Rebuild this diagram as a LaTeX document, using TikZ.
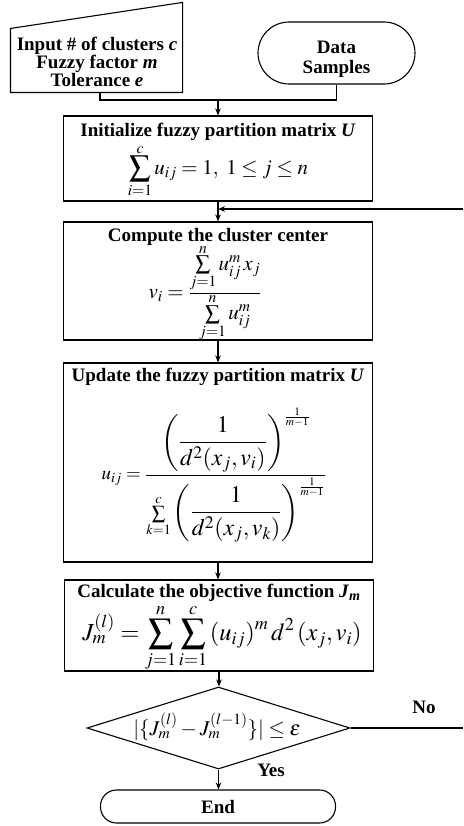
\documentclass[tikz,border=0pt]{standalone}
\usepackage{mathptmx}
\usepackage{graphicx}
\usepackage[no-math]{fontspec}
\setmainfont{Liberation Serif}
\usetikzlibrary{shapes.geometric,arrows.meta}
\newcommand{\bigpar}[1]{\scalebox{1.25}{$\displaystyle\left(\frac{1}{d^2(x_j,#1)}\right)$}}
\newcommand{\tightlimits}{\fontdimen9\textfont3=2.5pt \fontdimen10\textfont3=2.5pt \fontdimen11\textfont3=0pt \fontdimen12\textfont3=0pt \fontdimen13\textfont3=0pt }
\newcommand{\tinyexp}{{\scriptscriptstyle\frac{1}{m-1}}}
\begin{document}
\begin{tikzpicture}[x=1pt,y=-1pt,line width=1.1pt,
  box/.style={draw,rectangle,inner sep=0pt,minimum width=309pt},
  arr/.style={-{Stealth[length=7pt,width=5.5pt]}},
  ttl/.style={font=\fontsize{19}{22}\selectfont\bfseries,inner sep=0pt},
  fml/.style={font=\fontsize{18}{20}\selectfont,inner sep=0pt},
  lbl/.style={font=\fontsize{19}{22}\selectfont\bfseries,inner sep=0pt}]
\useasboundingbox (0,0) rectangle (463,826);
% input (manual input shape)
\node[inner sep=0pt,minimum width=171pt,minimum height=89pt] (inp) at (96.5,47.5) {};
\draw ([yshift=-26pt]inp.north west) -- (inp.north east) -- (inp.south east) -- (inp.south west) -- cycle;
\node[ttl,align=center,font=\fontsize{19}{17}\selectfont\bfseries] (inpT) at (97,62) {Input \# of clusters \textit{c}\\Fuzzy factor \textit{m}\\Tolerance \textit{e}};
% data samples
\node[draw,rounded corners=31pt,minimum width=157pt,minimum height=62pt,inner sep=0pt] (data) at (336.5,53) {};
\node[ttl,align=center,font=\fontsize{19}{20}\selectfont\bfseries] (dataT) at (336.5,59) {Data\\Samples};
% init
\node[box,minimum height=85pt] (init) at (218,158.5) {};
\node[ttl] (initT) at (218,132) {Initialize fuzzy partition matrix \textit{U}};
\node[fml,font=\fontsize{21}{24}\selectfont] (initF) at (218,171) {$\tightlimits\displaystyle\sum_{i=1}^{c} u_{ij} = 1,\ 1\le j\le n$};
% compute
\node[box,minimum height=118pt] (comp) at (218,281) {};
\node[ttl] (compT) at (218,237) {Compute the cluster center};
\node[fml,font=\fontsize{21}{24}\selectfont] (compF) at (205,293) {$\tightlimits v_i=\displaystyle\frac{\textstyle\sum\limits_{j=1}^{n} u_{ij}^{m}\, x_j}{\textstyle\sum\limits_{j=1}^{n} u_{ij}^{m}}$};
% update
\node[box,minimum height=199pt] (upd) at (218,462.5) {};
\node[ttl] (updT) at (218,377) {Update the fuzzy partition matrix \textit{U}};
\node[fml,font=\fontsize{19}{22}\selectfont] (updF) at (214,475) {$\tightlimits u_{ij}=\displaystyle\frac{\bigpar{v_i}^{\tinyexp}}{\textstyle\sum\limits_{k=1}^{c}\bigpar{v_k}^{\tinyexp}}$};
% calc
\node[box,minimum height=91pt] (calc) at (219,625.5) {};
\node[ttl] (calcT) at (219,593) {Calculate the objective function \textit{J}\textsubscript{\textit{m}}};
\node[fml,font=\fontsize{24.5}{27}\selectfont] (calcF) at (222,638) {$\displaystyle J_m^{(l)}=\sum_{j=1}^{n}\sum_{i=1}^{c}\left(u_{ij}\right)^m d^2\left(x_j,v_i\right)$};
% decision
\node[draw,diamond,aspect=3.2,inner sep=0pt,minimum width=263pt,minimum height=82pt] (dia) at (218.5,728) {};
\node[fml,font=\fontsize{21}{24}\selectfont] (diaF) at (217,727) {$|\{J_m^{(l)}-J_m^{(l-1)}\}|\le\varepsilon$};
% end
\node[draw,rounded corners=16pt,minimum width=235pt,minimum height=33pt,inner sep=0pt,font=\fontsize{19}{22}\selectfont\bfseries] (end) at (218,806.5) {End};
% labels
\node[lbl] (no) at (424,707) {No};
\node[lbl] (yes) at (271,770) {Yes};
% connectors
\coordinate (inpb) at (100,92);
\coordinate (j1) at (100,100);
\coordinate (j2) at (218,100);
\draw (inpb) -- (j1) -| (data.south);
\draw[arr] (j2) -- (init.north);
\draw[arr] (init.south) -- (comp.north);
\draw[arr] (comp.south) -- (upd.north);
\draw[arr] (upd.south) -- (upd.south |- calc.north);
\draw[arr] (calc.south) -- (calc.south |- dia.north);
\draw[arr] (dia.south) -- (dia.south |- end.north);
\coordinate (fbR) at (463,209);
\draw[arr] (fbR) -- (fbR -| init.south);
\coordinate (noR) at (463,728);
\draw (dia.east) -- (noR);
\end{tikzpicture}
\end{document}
